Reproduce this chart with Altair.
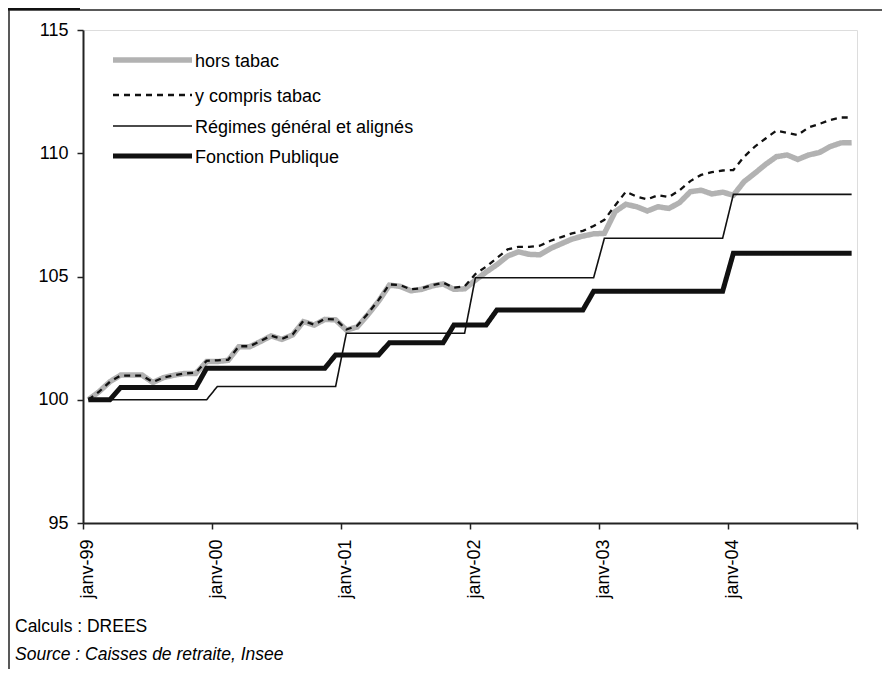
import json
import altair as alt
import pandas as pd

# ---- data (monthly index, base 100 = janvier 1999) ----
months = list(range(72))  # 0 = janv-99 ... 71 = déc-04
tick_labels = ["janv-99", "janv-00", "janv-01", "janv-02", "janv-03", "janv-04"]
series_names = ["hors tabac", "y compris tabac", "Régimes général et alignés", "Fonction Publique"]

hors_tabac = [
    100.0, 100.33, 100.73, 101.0, 101.0, 101.0, 100.7, 100.9, 101.0, 101.07, 101.07, 101.55,
    101.55, 101.6, 102.15, 102.15, 102.36, 102.59, 102.45, 102.63, 103.17, 103.03, 103.26, 103.24,
    102.83, 102.95, 103.45, 104.0, 104.65, 104.6, 104.42, 104.48, 104.62, 104.7, 104.48, 104.5,
    104.85, 105.18, 105.48, 105.83, 106.0, 105.9, 105.88, 106.14, 106.33, 106.52, 106.64, 106.73,
    106.75, 107.63, 107.93, 107.83, 107.66, 107.83, 107.76, 108.0, 108.44, 108.5, 108.35, 108.42,
    108.3, 108.85, 109.19, 109.55, 109.86, 109.93, 109.75, 109.93, 110.03, 110.27, 110.42, 110.43,
]
y_compris_tabac = [
    100.0, 100.33, 100.73, 100.98, 100.98, 100.98, 100.72, 100.9, 101.0, 101.07, 101.1, 101.58,
    101.6, 101.62, 102.17, 102.17, 102.38, 102.6, 102.47, 102.65, 103.2, 103.05, 103.28, 103.26,
    102.85, 103.0, 103.5, 104.05, 104.68, 104.65, 104.48, 104.52, 104.65, 104.75, 104.55, 104.6,
    105.1, 105.4, 105.75, 106.1, 106.2, 106.2, 106.25, 106.45, 106.6, 106.75, 106.85, 107.05,
    107.3, 107.88, 108.44, 108.24, 108.13, 108.3, 108.22, 108.5, 108.87, 109.12, 109.23, 109.3,
    109.32, 109.86, 110.27, 110.6, 110.92, 110.83, 110.74, 111.05, 111.19, 111.35, 111.45, 111.45,
]
regimes = [
    100.0, 100.0, 100.0, 100.0, 100.0, 100.0, 100.0, 100.0, 100.0, 100.0, 100.0, 100.0,
    100.54, 100.54, 100.54, 100.54, 100.54, 100.54, 100.54, 100.54, 100.54, 100.54, 100.54, 100.54,
    102.7, 102.7, 102.7, 102.7, 102.7, 102.7, 102.7, 102.7, 102.7, 102.7, 102.7, 102.7,
    104.95, 104.95, 104.95, 104.95, 104.95, 104.95, 104.95, 104.95, 104.95, 104.95, 104.95, 104.95,
    106.55, 106.55, 106.55, 106.55, 106.55, 106.55, 106.55, 106.55, 106.55, 106.55, 106.55, 106.55,
    108.33, 108.33, 108.33, 108.33, 108.33, 108.33, 108.33, 108.33, 108.33, 108.33, 108.33, 108.33,
]
fonction_publique = [
    100.0, 100.0, 100.0, 100.5, 100.5, 100.5, 100.5, 100.5, 100.5, 100.5, 100.5, 101.28,
    101.28, 101.28, 101.28, 101.28, 101.28, 101.28, 101.28, 101.28, 101.28, 101.28, 101.28, 101.82,
    101.82, 101.82, 101.82, 101.82, 102.31, 102.31, 102.31, 102.31, 102.31, 102.31, 103.03, 103.03,
    103.03, 103.03, 103.64, 103.64, 103.64, 103.64, 103.64, 103.64, 103.64, 103.64, 103.64, 104.4,
    104.4, 104.4, 104.4, 104.4, 104.4, 104.4, 104.4, 104.4, 104.4, 104.4, 104.4, 104.4,
    105.94, 105.94, 105.94, 105.94, 105.94, 105.94, 105.94, 105.94, 105.94, 105.94, 105.94, 105.94,
]
footnote_calc = ["Calculs : DREES"]
footnote_source = ["Source : Caisses de retraite, Insee"]

rows = []
for name, vals in zip(series_names, [hors_tabac, y_compris_tabac, regimes, fonction_publique]):
    for m, v in zip(months, vals):
        rows.append({"mois": m, "indice": v, "serie": name})
df = pd.DataFrame(rows)
leg_df = pd.DataFrame({"serie": series_names})

FONT = "Liberation Sans"
FS = 18
W, H = 774, 493

color_scale = alt.Scale(domain=series_names, range=["#b2b2b2", "#111111", "#111111", "#111111"])
dash_scale = alt.Scale(domain=series_names, range=[[1, 0], [6, 5], [1, 0], [1, 0]])
width_scale = alt.Scale(type="ordinal", domain=series_names, range=[5.5, 2.3, 1.6, 5])

x_tick_values = [-0.5 + 12 * k for k in range(7)]
label_expr = "datum.value > 71 ? '' : " + json.dumps(tick_labels) + "[round((datum.value + 0.5) / 12)]"

lines = alt.Chart(df).mark_line(strokeCap="butt", strokeJoin="miter").encode(
    x=alt.X("mois:Q", scale=alt.Scale(domain=[-0.5, 71.5], nice=False, zero=False),
            axis=alt.Axis(values=x_tick_values, labelExpr=label_expr, labelAngle=-90,
                          tickSize=6, labelPadding=10, labelOffset=4, grid=False, title=None,
                          labelFontSize=FS, labelFont=FONT, labelColor="black",
                          domainColor="#222", domainWidth=2, tickColor="#222", tickWidth=1.5)),
    y=alt.Y("indice:Q", scale=alt.Scale(domain=[95, 115], nice=False, zero=False),
            axis=alt.Axis(values=[95, 100, 105, 110, 115], tickSize=6, labelPadding=9,
                          grid=False, title=None, labelFontSize=FS, labelFont=FONT,
                          labelColor="black", domainColor="#222", domainWidth=2,
                          tickColor="#222", tickWidth=1.5)),
    color=alt.Color("serie:N", scale=color_scale, legend=None),
    strokeDash=alt.StrokeDash("serie:N", scale=dash_scale, legend=None),
    strokeWidth=alt.StrokeWidth("serie:N", scale=width_scale, legend=None),
    detail="serie:N",
)

# ---- hand-built legend (sample line + label per series) ----
legend_rows_y = [30, 65, 96, 126]
legend_layers = []
for name, ly in zip(series_names, legend_rows_y):
    base = alt.Chart(leg_df).transform_filter(alt.datum.serie == name)
    legend_layers.append(base.mark_rule(strokeCap="butt").encode(
        x=alt.value(30), x2=alt.value(109), y=alt.value(ly),
        color=alt.Color("serie:N", scale=color_scale, legend=None),
        strokeDash=alt.StrokeDash("serie:N", scale=dash_scale, legend=None),
        strokeWidth=alt.StrokeWidth("serie:N", scale=width_scale, legend=None),
    ))
    legend_layers.append(base.mark_text(
        align="left", baseline="middle", fontSize=FS, font=FONT, color="black").encode(
        text="serie:N", x=alt.value(112), y=alt.value(ly + 2)))

deco = alt.Data(values=[{"k": 1}])
left_line = alt.Chart(deco).mark_rule(color="#222", strokeWidth=1.5).encode(
    x=alt.value(-74), y=alt.value(-20), y2=alt.value(H + 160))
top_line = alt.Chart(deco).mark_rule(color="#222", strokeWidth=1.5).encode(
    x=alt.value(-75), x2=alt.value(W + 40), y=alt.value(-20))
tab = alt.Chart(deco).mark_rect(color="#111").encode(
    x=alt.value(-75), x2=alt.value(-3), y=alt.value(-23), y2=alt.value(-20))

calc = alt.Chart(pd.DataFrame({"t": footnote_calc})).mark_text(
    align="left", baseline="middle", fontSize=17.5, font=FONT, color="black").encode(
    text="t:N", x=alt.value(-68), y=alt.value(597))
source = alt.Chart(pd.DataFrame({"t": footnote_source})).mark_text(
    align="left", baseline="middle", fontSize=17.5, font=FONT, fontStyle="italic", color="black").encode(
    text="t:N", x=alt.value(-68), y=alt.value(625))

chart = alt.layer(lines, *legend_layers, left_line, top_line, tab, calc, source).properties(
    width=W, height=H,
    padding={"left": 75, "top": 22, "right": 25, "bottom": 146},
    autosize=alt.AutoSizeParams(type="none"),
).configure_view(stroke="#222", strokeWidth=2).configure(background="white")

chart.save("out.html", embed_options={"renderer": "svg", "actions": False})
